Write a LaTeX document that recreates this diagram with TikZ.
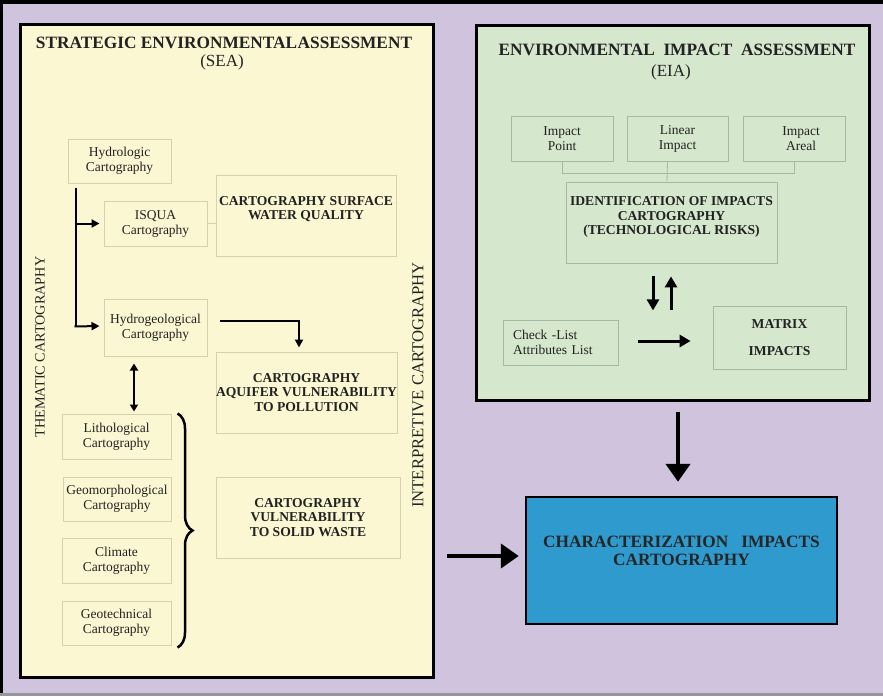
\documentclass[tikz,border=0pt]{standalone}
\usepackage{fontspec}
\setmainfont{Liberation Serif}
\usetikzlibrary{arrows.meta,calc,decorations.pathreplacing}
\definecolor{lav}{HTML}{CFC3DD}
\definecolor{seafill}{HTML}{FBF7D2}
\definecolor{eiafill}{HTML}{D5E7CC}
\definecolor{bluefill}{HTML}{2E9ACD}
\definecolor{seaedge}{HTML}{D6D0AE}
\definecolor{eiaedge}{HTML}{A9B8A2}
\definecolor{txt}{HTML}{222222}
\begin{document}
\begin{tikzpicture}[x=1pt,y=-1pt,
  sbox/.style={draw=seaedge, line width=1pt, inner sep=0pt, align=center, text=txt,
     font=\fontsize{13.5}{15}\selectfont},
  ebox/.style={draw=eiaedge, line width=0.8pt, inner sep=0pt, align=center, text=txt,
     font=\fontsize{13.5}{15}\selectfont},
  bold/.style={font=\fontsize{13.6}{14.5}\selectfont\bfseries, align=center, text=txt},
  thinline/.style={draw=seaedge, line width=1pt},
  ethin/.style={draw=eiaedge, line width=0.8pt},
  arrS/.style={line width=2pt, -{Triangle[length=8pt,width=8pt]}},
  arrM/.style={line width=3pt, -{Triangle[length=11pt,width=12pt]}},
  arrL/.style={line width=4.5pt, -{Triangle[length=18pt,width=24pt]}},
  panel/.style={line width=3pt, draw=black, inner sep=0pt}
]
\useasboundingbox (0,0) rectangle (883,696);
% background
\fill[lav] (0,0) rectangle (883,696);
\fill[black] (0,0) rectangle (883,4);
\fill[black] (0,0) rectangle (3,696);
\fill[gray!70!lav] (0,693) rectangle (883,696);

% panels
\node[panel, fill=seafill, minimum width=413pt, minimum height=653pt] (sea) at (226.5,350.5) {};
\node[panel, fill=eiafill, minimum width=393pt, minimum height=375pt] (eia) at (672.5,212.5) {};

% SEA titles
\node[font=\fontsize{17.3}{19}\selectfont\bfseries, text=txt] (seat) at (224,43) {STRATEGIC ENVIRONMENTAL\hspace{0.5pt}ASSESSMENT};
\node[font=\fontsize{17}{19}\selectfont, text=txt] (seas) at (222,62) {(SEA)};
\node[rotate=90, font=\fontsize{14.2}{16}\selectfont, text=txt] (thematic) at (40,347) {THEMATIC CARTOGRAPHY};
\node[rotate=90, font=\fontsize{16.7}{18}\selectfont, text=txt] (interp) at (418,385) {INTERPRETIVE CARTOGRAPHY};

% SEA boxes
\node[sbox, minimum width=103pt, minimum height=44pt] (hydro) at (119.5,161) {Hydrologic\\Cartography};
\node[sbox, minimum width=103pt, minimum height=45pt] (isqua) at (155.5,223.5) {ISQUA\\Cartography};
\node[sbox, minimum width=180pt, minimum height=81pt] (swq) at (306,215.5) {};
\node[bold] (swqt) at (306,209) {CARTOGRAPHY SURFACE\\WATER QUALITY};
\node[sbox, minimum width=103pt, minimum height=57pt] (hydrogeo) at (155.5,327.5) {Hydrogeological\\Cartography};
\node[sbox, minimum width=181pt, minimum height=81pt, font=\fontsize{13.6}{14.5}\selectfont\bfseries] (aquifer) at (306.5,392.5) {CARTOGRAPHY\\AQUIFER VULNERABILITY\\TO POLLUTION};
\node[sbox, minimum width=109pt, minimum height=45pt] (litho) at (116.5,436.5) {Lithological\\Cartography};
\node[sbox, minimum width=108pt, minimum height=44pt] (geomorph) at (117,499) {Geomorphological\\Cartography};
\node[sbox, minimum width=109pt, minimum height=45pt] (climate) at (116.5,560.5) {Climate\\Cartography};
\node[sbox, minimum width=109pt, minimum height=44pt] (geotech) at (116.5,623) {Geotechnical\\Cartography};
\node[sbox, minimum width=184pt, minimum height=81pt, font=\fontsize{13.6}{14.5}\selectfont\bfseries] (solid) at (308,517.5) {CARTOGRAPHY\\VULNERABILITY\\TO SOLID WASTE};

% SEA connectors
\draw[line width=2pt] ($(hydro.south west)+(8,4)$) -- ($(hydro.south west)+(8,143)$);
\draw[arrS] ({$(hydro.south west)+(7,0)$} |- isqua.west) -- ([xshift=-4pt]isqua.west);
\draw[arrS] ($(hydro.south west)+(7,143)$) -- ($(hydrogeo.west)+(-4,-1.5)$);
\draw[thinline] (isqua.east) -- (isqua.east -| swq.west);
\draw[arrS] ($(hydrogeo.east)+(12,-6.5)$) -| ($(aquifer.north)+(-7.5,-4)$);
\draw[line width=2pt, {Triangle[length=7pt,width=8pt]}-{Triangle[length=7pt,width=8pt]}] ($(hydrogeo.south)+(-21.5,7)$) -- ($(litho.north)+(17.5,-2)$);
\draw[decorate, decoration={brace, amplitude=15pt}, line width=2.5pt] ($(litho.north east)+(6,0)$) -- ($(geotech.south east)+(6,2)$);

% EIA
\node[font=\fontsize{17.3}{19}\selectfont\bfseries, text=txt] (eiat) at (677,50) {ENVIRONMENTAL\ \ IMPACT\ \ ASSESSMENT};
\node[font=\fontsize{17}{19}\selectfont, text=txt] (eias) at (671,72) {(EIA)};
\node[ebox, minimum width=102pt, minimum height=45pt] (ipoint) at (562,138.5) {Impact\\Point};
\node[ebox, minimum width=101pt, minimum height=45pt] (linear) at (677.5,138.5) {Linear\strut\\Impact};
\node[ebox, minimum width=102pt, minimum height=45pt] (areal) at (794,138.5) {\hspace*{14pt}Impact\\\hspace*{14pt}Areal};
\node[ebox, minimum width=211pt, minimum height=81pt] (idbox) at (671.5,222.5) {};
\node[bold] (idt) at (671.5,217) {IDENTIFICATION OF IMPACTS\\CARTOGRAPHY\\(TECHNOLOGICAL RISKS)};
\draw[ethin] (ipoint.south) -- ++(0,12) -| (areal.south);
\draw[ethin] ($(linear.south)+(-10,0)$) -- ($(idbox.north)+(-4.5,0)$);
\draw[arrM] ($(idbox.south)+(-18.5,13)$) -- ($(idbox.south)+(-18.5,47)$);
\draw[arrM] ($(idbox.south)+(-0.5,47)$) -- ($(idbox.south)+(-0.5,13)$);
\node[ebox, minimum width=115pt, minimum height=45pt, align=left, text width=95pt] (check) at (560.5,342.5) {Check -List\\Attributes List};
\node[ebox, minimum width=133pt, minimum height=63pt, font=\fontsize{13.6}{27}\selectfont\bfseries] (matrix) at (779.5,338) {MATRIX\\IMPACTS};
\draw[arrM] ($(check.east)+(20,-1.5)$) -- ($(matrix.west)+(-22,3)$);

% characterization
\node[draw=black, line width=2.5pt, fill=bluefill, minimum width=311pt, minimum height=127pt, inner sep=0pt] (charact) at (681.5,560.5) {};
\node[font=\fontsize{17.3}{18}\selectfont\bfseries, text=black!85, align=center] (chart) at (681.5,551) {CHARACTERIZATION\ \ \ IMPACTS\\CARTOGRAPHY};
\draw[arrL] ($(eia.south)+(5.5,10)$) -- ($(charact.north)+(-3.5,-14)$);
\draw[arrL] ({$(sea.east)+(12,0)$} |- {$(charact.west)+(0,-4.5)$}) -- ($(charact.west)+(-6,-4.5)$);
\end{tikzpicture}
\end{document}
